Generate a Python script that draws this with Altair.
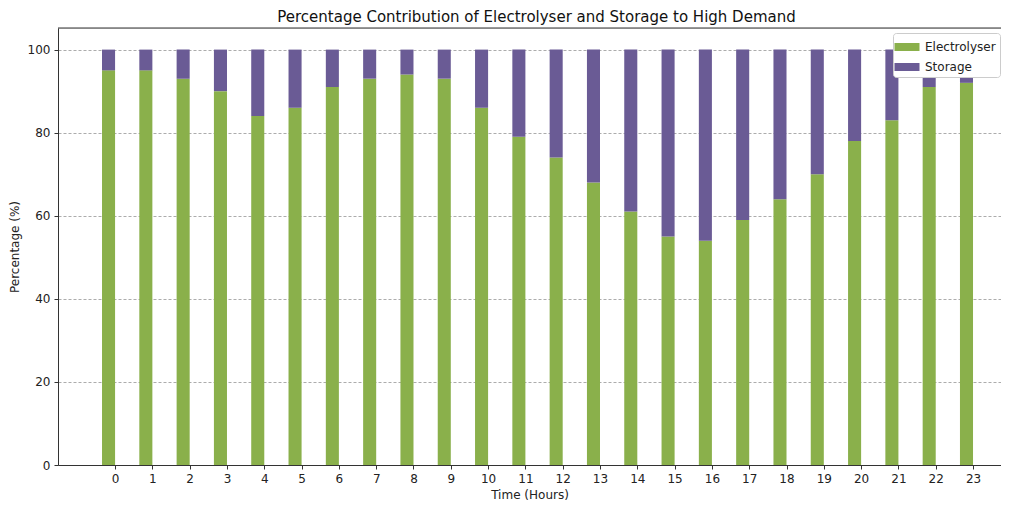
import altair as alt
import pandas as pd

hours = list(range(24))
electrolyser = [95, 95, 93, 90, 84, 86, 91, 93, 94, 93, 86, 79, 74, 68, 61, 55, 54, 59, 64, 70, 78, 83, 91, 92]
storage = [5, 5, 7, 10, 16, 14, 9, 7, 6, 7, 14, 21, 26, 32, 39, 45, 46, 41, 36, 30, 22, 17, 9, 8]
series_names = ["Electrolyser", "Storage"]
series_colors = ["#8AB04B", "#6A5B95"]
bar_width = 0.35

rows = []
for h, e, s in zip(hours, electrolyser, storage):
    rows.append({"hour": h, "series": "Electrolyser", "y0": 0, "y1": e})
    rows.append({"hour": h, "series": "Storage", "y0": e, "y1": e + s})
df = pd.DataFrame(rows)

FONT = "DejaVu Sans"
W, H = 943, 437

bars = alt.Chart(df).transform_calculate(
    xs=f"datum.hour - {bar_width}", xe="datum.hour"
).mark_bar(opacity=1).encode(
    x=alt.X("xs:Q",
            scale=alt.Scale(domain=[-1.53, 23.75], nice=False, zero=False),
            axis=alt.Axis(values=hours, format="d", title="Time (Hours)", grid=False,
                          labelFontSize=12, titleFontSize=12, labelFont=FONT, titleFont=FONT,
                          titleFontWeight="normal", labelColor="#222", titleColor="#222",
                          tickSize=4, tickColor="#333", domainColor="#333", labelPadding=4,
                          titlePadding=5, labelFlush=False)),
    x2="xe:Q",
    y=alt.Y("y1:Q",
            scale=alt.Scale(domain=[0, 105.2], nice=False, zero=True),
            axis=alt.Axis(values=[0, 20, 40, 60, 80, 100], title="Percentage (%)",
                          grid=True, gridDash=[3, 2], gridColor="#888", gridWidth=0.7,
                          labelFontSize=12, titleFontSize=12, labelFont=FONT, titleFont=FONT,
                          titleFontWeight="normal", labelColor="#222", titleColor="#222",
                          tickSize=4, tickColor="#333", domainColor="#333", labelPadding=4,
                          titlePadding=6)),
    y2="y0:Q",
    color=alt.Color("series:N",
                    scale=alt.Scale(domain=series_names, range=series_colors),
                    legend=alt.Legend(title=None, orient="none", legendX=835, legendY=5,
                                      symbolType="M-1.25,-0.4H1.25V0.4H-1.25Z", symbolSize=400,
                                      symbolStrokeWidth=0, labelFont=FONT, labelFontSize=12,
                                      labelColor="#222", fillColor="white", strokeColor="#ccc",
                                      cornerRadius=3, padding=4, rowPadding=4, labelOffset=8)),
)

frame = alt.Chart(pd.DataFrame({"k": [0]})).mark_rule(color="#333", strokeWidth=1).encode(
    x=alt.value(0), x2=alt.value(W), y=alt.value(0)
)

chart = alt.layer(bars, frame).properties(
    width=W, height=H,
    title=alt.Title("Percentage Contribution of Electrolyser and Storage to High Demand",
                    font=FONT, fontSize=15, fontWeight="normal", color="#111",
                    anchor="middle", dx=7, offset=3),
    autosize="none",
    padding={"left": 50, "top": 20, "right": 0, "bottom": 40},
).configure_view(stroke=None).configure(background="white")

chart.save("out.html", embed_options={"renderer": "svg", "actions": False})
